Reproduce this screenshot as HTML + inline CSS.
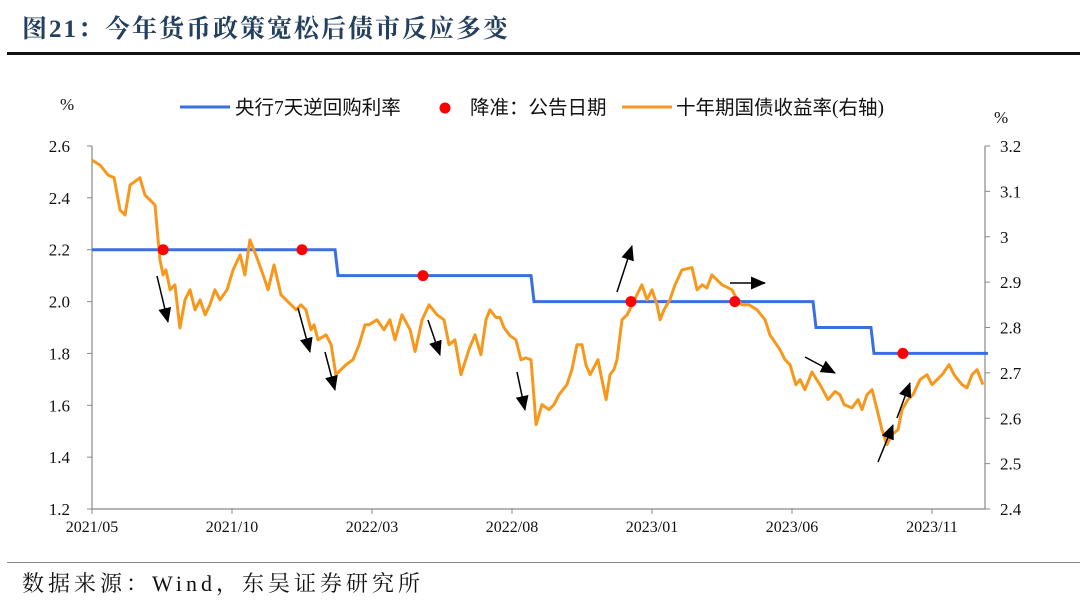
<!DOCTYPE html>
<html><head><meta charset="utf-8">
<style>
body{margin:0;background:#fff;width:1080px;height:610px;overflow:hidden;position:relative;font-family:"Liberation Serif","Noto Serif CJK SC",serif;}
#title{position:absolute;left:22px;top:9px;font-size:25px;font-weight:bold;color:#24405e;letter-spacing:2px;font-family:"Liberation Serif","Noto Serif CJK SC",serif;}
#rule{position:absolute;left:7px;top:52px;width:1073px;height:3px;background:#111;}
#foot-rule{position:absolute;left:7px;top:562px;width:1073px;height:1px;background:#888;}
#source{position:absolute;left:22px;top:567px;font-size:22px;color:#111;letter-spacing:4px;}
svg text{font-family:"Liberation Serif","Noto Sans CJK SC",serif;}
</style></head><body>
<div id="title">图21：今年货币政策宽松后债市反应多变</div>
<div id="rule"></div>
<svg id="chart" width="1080" height="610" style="position:absolute;left:0;top:0"></svg>
<div id="foot-rule"></div>
<div id="source">数据来源：Wind，东吴证券研究所</div>
<script>
// months since 2021/05
const xTickLabels=["2021/05","2021/10","2022/03","2022/08","2023/01","2023/06","2023/11"];
const xTickMonths=[0,5,10,15,20,25,30];
const leftTicks=[1.2,1.4,1.6,1.8,2.0,2.2,2.4,2.6];
const rightTicks=[2.4,2.5,2.6,2.7,2.8,2.9,3.0,3.1,3.2];
const rateMonths=[0,8.68,15.68,25.75,27.82,31.89];
const rateValues=[2.2,2.1,2.0,1.9,1.8,1.8];
const cutMonths=[2.54,7.50,11.82,19.25,22.96,28.96];
const cutValues=[2.2,2.2,2.1,2.0,2.0,1.8];
const yMonths=[0,0.29,0.57,0.79,1,1.18,1.36,1.71,1.89,2.07,2.25,2.36,2.43,2.54,2.64,2.79,2.96,3.14,3.32,3.5,3.68,3.86,4.04,4.21,4.39,4.57,4.82,5.04,5.29,5.46,5.64,5.89,6.11,6.29,6.5,6.75,6.93,7.11,7.29,7.46,7.64,7.82,7.93,8.07,8.36,8.54,8.71,8.89,9.07,9.32,9.54,9.75,9.89,10.18,10.43,10.64,10.82,11.07,11.36,11.54,11.79,12.04,12.32,12.57,12.75,12.96,13.18,13.46,13.68,13.89,14.07,14.21,14.43,14.57,14.71,14.93,15.14,15.32,15.5,15.68,15.86,16.07,16.32,16.5,16.68,16.96,17.14,17.32,17.5,17.64,17.79,18.07,18.21,18.36,18.5,18.64,18.75,18.93,19.11,19.29,19.46,19.64,19.82,20,20.18,20.29,20.43,20.64,20.82,21.07,21.43,21.61,21.79,21.96,22.14,22.5,22.86,23.04,23.21,23.46,23.75,24.04,24.21,24.57,24.75,24.93,25.14,25.29,25.46,25.71,26,26.29,26.54,26.71,26.86,27.14,27.36,27.5,27.68,27.86,28.04,28.21,28.39,28.57,28.79,28.93,29.14,29.32,29.57,29.82,30,30.18,30.36,30.61,30.79,30.93,31.07,31.25,31.43,31.61,31.82];
const yValues=[3.169,3.158,3.136,3.130,3.059,3.048,3.114,3.130,3.092,3.081,3.070,2.993,2.949,2.916,2.927,2.883,2.894,2.799,2.861,2.883,2.839,2.861,2.828,2.850,2.883,2.861,2.883,2.927,2.960,2.916,2.993,2.954,2.916,2.883,2.938,2.872,2.861,2.850,2.839,2.850,2.839,2.795,2.806,2.773,2.784,2.762,2.696,2.707,2.718,2.729,2.762,2.806,2.806,2.817,2.795,2.817,2.773,2.828,2.795,2.747,2.817,2.850,2.828,2.817,2.762,2.773,2.696,2.751,2.784,2.740,2.817,2.839,2.822,2.822,2.800,2.782,2.773,2.729,2.733,2.729,2.586,2.630,2.619,2.630,2.652,2.674,2.707,2.762,2.762,2.718,2.696,2.729,2.685,2.641,2.696,2.707,2.729,2.817,2.828,2.850,2.872,2.894,2.861,2.883,2.850,2.817,2.839,2.861,2.894,2.927,2.932,2.883,2.894,2.887,2.916,2.894,2.883,2.861,2.850,2.850,2.839,2.817,2.784,2.751,2.729,2.718,2.674,2.685,2.663,2.702,2.674,2.641,2.659,2.652,2.630,2.623,2.641,2.619,2.652,2.663,2.619,2.575,2.542,2.564,2.575,2.619,2.641,2.652,2.685,2.696,2.674,2.685,2.696,2.718,2.696,2.685,2.674,2.667,2.696,2.707,2.674,2.659,2.646,2.615,2.606];
const arrowsFrom=[[157,276],[298,308],[325,352],[428,320],[517,372],[617,292],[730,283],[805,357],[878,462],[897,418]];
const arrowsTo=[[168,322],[310,352],[335,390],[440,355],[525,410],[632,246],[765,283],[835,373],[893,425],[910,383]];

const X0=92,X1=985,PXM=28,YT=146,YB=509;
const xs=m=>X0+m*PXM;
const yl=v=>YB-(v-1.2)/(2.6-1.2)*(YB-YT);
const yr=v=>YB-(v-2.4)/(3.2-2.4)*(YB-YT);
const NS="http://www.w3.org/2000/svg";
const svg=document.getElementById('chart');
function mk(tag,attrs,parent){const e=document.createElementNS(NS,tag);for(const k in attrs)e.setAttribute(k,attrs[k]);(parent||svg).appendChild(e);return e;}
const defs=mk('defs',{});
const mr=mk('marker',{id:'ah',markerWidth:'15',markerHeight:'13',refX:'14',refY:'6.5',orient:'auto',markerUnits:'userSpaceOnUse'},defs);
mk('path',{d:'M0,0 L15,6.5 L0,13 Z',fill:'#000'},mr);

// axes
let a=mk('line',{x1:X0,y1:YT,x2:X0,y2:YB,stroke:'#888','stroke-width':1.2});

a=mk('line',{x1:X1,y1:YT,x2:X1,y2:YB,stroke:'#888','stroke-width':1.2});

a=mk('line',{x1:X0,y1:YB,x2:X1,y2:YB,stroke:'#888','stroke-width':1.2});

leftTicks.forEach(v=>{const y=yl(v);mk('line',{x1:X0-5,y1:y,x2:X0,y2:y,stroke:'#888'});
 const t=mk('text',{x:70,y:y+6,'text-anchor':'end','font-size':17,fill:'#111'});t.textContent=v.toFixed(1);
 });
rightTicks.forEach(v=>{const y=yr(v);mk('line',{x1:X1,y1:y,x2:X1+5,y2:y,stroke:'#888'});
 const t=mk('text',{x:1000,y:y+6,'font-size':17,fill:'#111'});t.textContent=(v===3?'3':v.toFixed(1));
 });
xTickMonths.forEach((m,i)=>{const x=xs(m);mk('line',{x1:x,y1:YB,x2:x,y2:YB+5,stroke:'#888'});
 const t=mk('text',{x:x,y:532,'text-anchor':'middle','font-size':16,fill:'#111'});t.textContent=xTickLabels[i];
 });
let u=mk('text',{x:60,y:110,'font-size':17,fill:'#111'});u.textContent='%';

u=mk('text',{x:994,y:123,'font-size':17,fill:'#111'});u.textContent='%';


// policy rate step line
let d='';rateMonths.forEach((m,i)=>{const x=xs(m),y=yl(rateValues[i]);if(i===0)d='M'+x+','+y;else d+=' L'+x+','+yl(rateValues[i-1])+' L'+(x+3)+','+y;});
d+=' L'+X1+','+yl(rateValues[rateValues.length-1]);
const rl=mk('path',{d:d,fill:'none',stroke:'#3a6fe0','stroke-width':3});


// yield line
const yp=mk('path',{d:yMonths.map((m,i)=>(i?'L':'M')+xs(m).toFixed(1)+','+yr(yValues[i]).toFixed(1)).join(' '),fill:'none',stroke:'#f7981d','stroke-width':3,'stroke-linejoin':'round'});


// rrr cut dots
cutMonths.forEach((m,i)=>{const c=mk('circle',{cx:xs(m),cy:yl(cutValues[i]),r:5.5,fill:'#f00'});
 });

// arrows
arrowsFrom.forEach((p,i)=>{const l=mk('line',{x1:p[0],y1:p[1],x2:arrowsTo[i][0],y2:arrowsTo[i][1],stroke:'#000','stroke-width':1.5,'marker-end':'url(#ah)'});
 });

// legend
let g=mk('g',{});
mk('line',{x1:180,y1:107,x2:230,y2:107,stroke:'#3a6fe0','stroke-width':3},g);
let t=mk('text',{x:235,y:114,'font-size':19.5,fill:'#111'},g);t.textContent='央行7天逆回购利率';

mk('circle',{cx:445,cy:108,r:5.5,fill:'#f00'},g);
t=mk('text',{x:470,y:114,'font-size':19.5,fill:'#111'},g);t.textContent='降准：公告日期';

mk('line',{x1:622,y1:107,x2:672,y2:107,stroke:'#f7981d','stroke-width':3},g);
t=mk('text',{x:676,y:114,'font-size':19.5,fill:'#111'},g);t.textContent='十年期国债收益率(右轴)';

</script>
</body></html>
